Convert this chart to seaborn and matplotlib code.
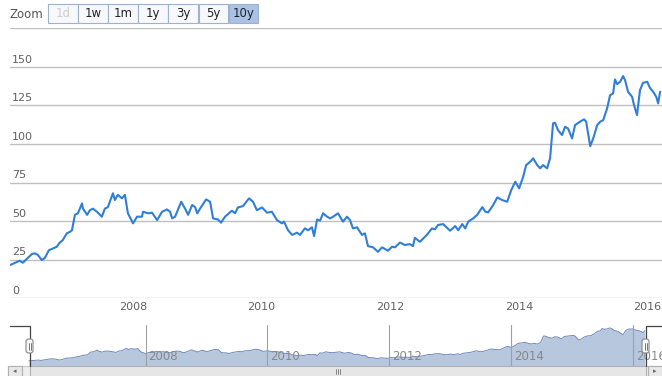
import matplotlib
matplotlib.use("Agg")
import matplotlib.pyplot as plt
import matplotlib.dates as mdates
from matplotlib.patches import Rectangle, FancyBboxPatch
import pandas as pd
import seaborn as sns

# values
dates = [
    "2006-02-01", "2006-03-28", "2006-04-15", "2006-06-05", "2006-06-22", "2006-07-09",
    "2006-08-01", "2006-08-18", "2006-09-10", "2006-10-25", "2006-11-11", "2006-11-28",
    "2006-12-21", "2007-01-08", "2007-01-19", "2007-02-05", "2007-02-22", "2007-03-17",
    "2007-03-23", "2007-04-15", "2007-05-01", "2007-05-18", "2007-06-10", "2007-07-08",
    "2007-07-25", "2007-08-11", "2007-09-09", "2007-09-20", "2007-10-07", "2007-10-30",
    "2007-11-16", "2007-12-03", "2008-01-01", "2008-01-24", "2008-02-21", "2008-02-27",
    "2008-03-27", "2008-04-18", "2008-05-17", "2008-06-14", "2008-07-12", "2008-07-30",
    "2008-08-10", "2008-08-27", "2008-10-01", "2008-10-23", "2008-11-09", "2008-12-02",
    "2008-12-19", "2008-12-31", "2009-01-16", "2009-02-19", "2009-03-14", "2009-03-31",
    "2009-04-28", "2009-05-15", "2009-06-07", "2009-07-16", "2009-08-03", "2009-08-19",
    "2009-09-17", "2009-10-21", "2009-11-13", "2009-12-05", "2010-01-03", "2010-02-01",
    "2010-02-28", "2010-03-29", "2010-04-26", "2010-05-08", "2010-05-31", "2010-06-23",
    "2010-07-21", "2010-08-07", "2010-09-04", "2010-09-22", "2010-10-14", "2010-10-26",
    "2010-11-12", "2010-11-29", "2010-12-16", "2011-01-08", "2011-01-25", "2011-02-11",
    "2011-03-11", "2011-04-08", "2011-05-01", "2011-05-18", "2011-06-04", "2011-06-27",
    "2011-07-25", "2011-08-11", "2011-08-28", "2011-09-26", "2011-10-24", "2011-11-16",
    "2011-12-20", "2012-01-12", "2012-01-29", "2012-02-26", "2012-03-25", "2012-04-22",
    "2012-05-10", "2012-05-21", "2012-06-18", "2012-07-28", "2012-08-26", "2012-09-12",
    "2012-09-29", "2012-10-28", "2012-12-07", "2013-01-05", "2013-01-22", "2013-02-14",
    "2013-03-03", "2013-03-20", "2013-04-17", "2013-05-10", "2013-06-08", "2013-06-25",
    "2013-07-11", "2013-08-09", "2013-09-01", "2013-09-29", "2013-10-27", "2013-11-19",
    "2013-12-12", "2014-01-03", "2014-01-26", "2014-02-12", "2014-03-07", "2014-03-24",
    "2014-04-16", "2014-05-03", "2014-05-19", "2014-06-11", "2014-06-28", "2014-07-15",
    "2014-07-26", "2014-08-12", "2014-09-04", "2014-09-21", "2014-10-08", "2014-10-31",
    "2014-11-17", "2014-12-15", "2015-01-07", "2015-01-19", "2015-02-11", "2015-02-28",
    "2015-03-23", "2015-04-09", "2015-04-26", "2015-05-18", "2015-06-04", "2015-06-21",
    "2015-07-02", "2015-07-14", "2015-07-31", "2015-08-17", "2015-08-28", "2015-09-14",
    "2015-10-07", "2015-10-18", "2015-11-04", "2015-11-21", "2015-12-08", "2016-01-01",
    "2016-01-18", "2016-02-04", "2016-02-21", "2016-03-03", "2016-03-14",
]
prices = [
    21.4, 24.2, 22.9, 28.5, 29.0, 28.0,
    24.6, 26.0, 31.0, 33.3, 36.0, 37.6,
    42.0, 43.0, 44.0, 54.0, 55.0, 61.4,
    58.0, 54.0, 57.0, 58.0, 56.0, 52.8,
    58.0, 59.0, 68.0, 63.6, 67.0, 64.7,
    67.0, 55.0, 48.5, 52.8, 52.8, 56.0,
    55.0, 55.4, 50.6, 56.0, 57.5, 56.0,
    51.7, 52.8, 62.5, 58.0, 54.0, 60.4,
    59.0, 55.0, 58.0, 64.0, 62.5, 51.7,
    51.0, 48.9, 52.8, 56.7, 55.0, 58.8,
    59.7, 64.7, 62.5, 57.0, 58.8, 55.4,
    56.0, 50.6, 48.5, 49.6, 44.0, 41.0,
    42.4, 41.0, 45.2, 44.0, 45.9, 40.2,
    51.0, 50.2, 55.0, 52.8, 51.7, 52.8,
    55.0, 49.6, 52.8, 50.6, 45.2, 45.9,
    41.0, 42.0, 33.7, 32.9, 30.0, 32.9,
    30.7, 33.3, 32.9, 36.0, 34.4, 35.0,
    33.7, 39.1, 36.5, 41.0, 45.2, 44.6,
    47.4, 48.0, 43.7, 46.7, 44.0, 48.0,
    45.2, 49.6, 51.7, 54.0, 59.0, 56.0,
    55.6, 60.4, 65.3, 63.6, 62.5, 70.0,
    75.5, 71.2, 78.7, 86.3, 88.5, 90.7,
    86.3, 84.2, 86.3, 84.2, 90.7, 113.4,
    113.8, 109.0, 105.8, 111.2, 110.1, 103.6,
    112.3, 114.5, 116.0, 114.5, 98.6, 103.6,
    112.3, 114.5, 115.5, 123.1, 131.7, 132.8,
    141.9, 138.9, 140.4, 144.1, 141.5, 133.9,
    130.7, 125.3, 118.8, 135.0, 139.7, 140.4,
    136.1, 133.9, 130.7, 126.4, 133.9,
]
y_ticks = [0, 25, 50, 75, 100, 125, 150]
year_ticks = ["2008-01-01", "2010-01-01", "2012-01-01", "2014-01-01", "2016-01-01"]
year_labels = ["2008", "2010", "2012", "2014", "2016"]
zoom_buttons = ["1d", "1w", "1m", "1y", "3y", "5y", "10y"]

W, H = 662, 376


def box(x0, y0, x1, y1):
    # pixel box (origin top left) -> figure fraction
    return [x0 / W, 1 - y1 / H, (x1 - x0) / W, (y1 - y0) / H]


sns.set_theme(style="white")
plt.rcParams["font.family"] = ["DejaVu Sans"]

df = pd.DataFrame({"date": pd.to_datetime(dates), "price": prices})
ticks = pd.to_datetime(year_ticks)

fig = plt.figure(figsize=(W / 100, H / 100), dpi=100)

# main chart
ax = fig.add_axes(box(10, 28.5, 662, 298))
sns.lineplot(data=df, x="date", y="price", ax=ax, color="#2f7ed8", linewidth=1.5)
ax.set_ylim(0, 175)
ax.set_xlim(pd.Timestamp("2006-02-01"), pd.Timestamp("2016-03-25"))
ax.set_yticks(range(0, 176, 25))
ax.set_yticklabels([])
ax.yaxis.grid(True, color="#c0c0c0", linewidth=1)
ax.xaxis.grid(False)
ax.set_xticks(ticks)
ax.set_xticklabels(year_labels)
ax.tick_params(axis="x", length=0, pad=3, labelsize=8, labelcolor="#606060")
ax.tick_params(axis="y", length=0)
ax.set_xlabel("")
ax.set_ylabel("")
for s in ax.spines.values():
    s.set_visible(False)
for v in y_ticks:
    ax.annotate(str(v), xy=(0, v), xycoords=("axes fraction", "data"),
                xytext=(2, 7), textcoords="offset pixels",
                ha="left", va="center", fontsize=8, color="#606060")

# navigator
nav = fig.add_axes(box(10, 325, 662, 365.5))
nav.fill_between(df["date"], df["price"], 0, color="#b7c7de", linewidth=0)
sns.lineplot(data=df, x="date", y="price", ax=nav, color="#7088b8", linewidth=0.7)
nav.set_xlim(pd.Timestamp("2005-10-10"), pd.Timestamp("2016-06-25"))
nav.set_ylim(4, 155)
nav.set_xticks([])
nav.set_yticks([])
nav.set_xlabel("")
nav.set_ylabel("")
for s in nav.spines.values():
    s.set_visible(False)
for t, lab in zip(ticks, year_labels):
    nav.axvline(t, color="#a0a0a0", linewidth=0.8, zorder=3)
    nav.annotate(lab, xy=(t, 0.22), xycoords=("data", "axes fraction"),
                 xytext=(3, 0), textcoords="offset pixels",
                 ha="left", va="center", fontsize=8.5, color="#888888")

# overlay in pixel coordinates for the ui chrome
ov = fig.add_axes([0, 0, 1, 1], zorder=5)
ov.set_xlim(0, W)
ov.set_ylim(H, 0)
ov.axis("off")
ov.patch.set_alpha(0)

x_lo = nav.transData.transform((mdates.date2num(df["date"].iloc[0]), 0))[0]
x_hi = nav.transData.transform((mdates.date2num(df["date"].iloc[-1]), 0))[0]
x_lo, x_hi = round(x_lo) + 0.5, round(x_hi) + 0.5

# scrollbar
ov.add_patch(Rectangle((8, 365.5), 654, 12, facecolor="#eeeeee", edgecolor="#c8c8c8", linewidth=0.8))
ov.add_patch(Rectangle((x_lo, 365.5), x_hi - x_lo, 12, facecolor="#e6e6e6", edgecolor="#b0b0b0", linewidth=0.8))
ov.add_patch(Rectangle((8, 365.5), 14, 12, facecolor="#e8e8e8", edgecolor="#b0b0b0", linewidth=0.8))
ov.add_patch(Rectangle((648, 365.5), 14, 12, facecolor="#e8e8e8", edgecolor="#b0b0b0", linewidth=0.8))
ov.text(15, 371, "\u25c2", ha="center", va="center", fontsize=5, color="#666666")
ov.text(655, 371, "\u25b8", ha="center", va="center", fontsize=5, color="#666666")
mid = (x_lo + x_hi) / 2
for dx in (-2, 0, 2):
    ov.plot([mid + dx, mid + dx], [368.5, 374], color="#777777", linewidth=0.6)

# navigator outline
ov.plot([10, x_lo, x_lo], [325.5, 325.5, 365.5], color="#444444", linewidth=0.9)
ov.plot([662, x_hi, x_hi], [325.5, 325.5, 365.5], color="#444444", linewidth=0.9)
for hx in (x_lo, x_hi):
    ov.add_patch(FancyBboxPatch((hx - 3.5, 339), 7, 14, boxstyle="round,pad=0,rounding_size=2.5",
                                facecolor="#f8f8f8", edgecolor="#888888", linewidth=0.8, zorder=6))
    for dx in (-1, 1):
        ov.plot([hx + dx, hx + dx], [342.5, 349.5], color="#666666", linewidth=0.6, zorder=7)

# range selector
ov.text(10, 14, "Zoom", ha="left", va="center", fontsize=8.5, color="#555555")
for i, lab in enumerate(zoom_buttons):
    bx = 48 + i * 30.1
    selected = lab == "10y"
    ov.add_patch(Rectangle((bx, 4), 29.5, 18.5,
                           facecolor="#a9c2e6" if selected else "#f6f8fb",
                           edgecolor="#9fb2cc", linewidth=0.8))
    ov.text(bx + 14.75, 13.5, lab, ha="center", va="center", fontsize=8.5,
            color="#cccccc" if lab == "1d" else "#222222")

fig.savefig("out.png", dpi=100)
